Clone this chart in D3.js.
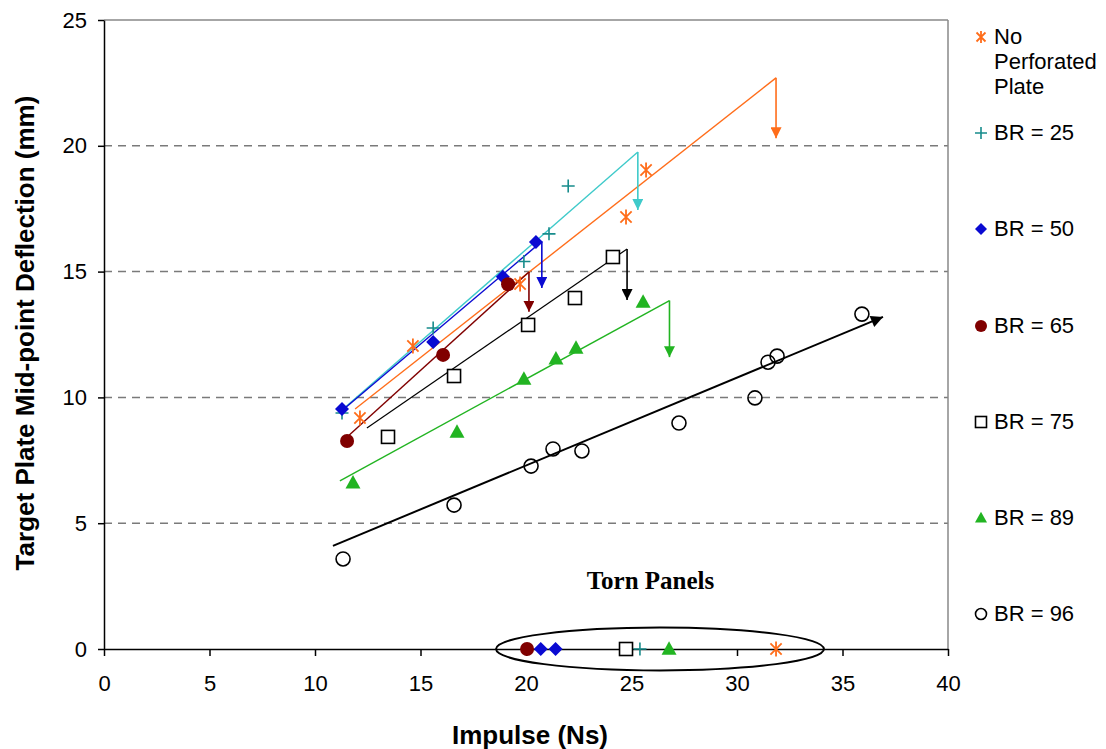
<!DOCTYPE html>
<html><head><meta charset="utf-8">
<script src="https://cdn.jsdelivr.net/npm/d3@7"></script>
<style>body{margin:0;background:#fff}svg{display:block}</style>
</head><body><svg id="c" width="1106" height="749"></svg>
<script>
// ---- data ----
const seriesNames = ["No Perforated Plate","BR = 25","BR = 50","BR = 65","BR = 75","BR = 89","BR = 96"];
const noPerf = [[12.13,9.18],[14.64,12.04],[19.72,14.51],[24.74,17.17],[25.69,19.04]];
const br25 = [[11.28,9.38],[15.6,12.76],[19.9,15.4],[21.09,16.5],[22.0,18.4]];
const br50 = [[11.28,9.54],[15.6,12.2],[18.9,14.8],[20.47,16.18]];
const br65 = [[11.52,8.27],[16.07,11.69],[19.15,14.5]];
const br75 = [[13.46,8.43],[16.59,10.85],[20.1,12.88],[22.32,13.95],[24.12,15.58]];
const br89 = [[11.8,6.6],[16.73,8.62],[19.9,10.73],[21.42,11.53],[22.37,11.96],[25.55,13.79]];
const br96 = [[11.33,3.58],[16.59,5.72],[20.24,7.27],[21.28,7.95],[22.65,7.87],[27.25,8.98],[30.85,9.98],[31.47,11.4],[31.9,11.64],[35.92,13.31]];
// torn panels (deflection 0)
const tornNoPerf = [31.85];
const torn25 = [25.4];
const torn50 = [20.7,21.4];
const torn65 = [20.05];
const torn75 = [24.74];
const torn89 = [26.78];
// trend lines: [x0,y0,x1,y1,arrowTipY]
const trendNoPerf = [11.9,9.54,31.85,22.7,20.3];
const trend25 = [11.28,9.5,25.3,19.75,17.45];
const trend50 = [11.2,9.42,20.75,16.2,14.35];
const trend65 = [11.52,8.43,20.14,14.98,13.4];
const trend75 = [12.46,8.78,24.79,15.9,13.87];
const trend89 = [11.18,6.68,26.8,13.85,11.6];
const trend96 = [10.85,4.1,36.92,13.2];
const xTicks = [0,5,10,15,20,25,30,35,40];
const yTicks = [0,5,10,15,20,25];
const tornEllipse = [26.35,0,7.77,0.85]; // cx, cy, rx, ry in data units
const tornLabel = ["Torn Panels",25.9,2.4];

// ---- chart ----
const SANS = "Arial, 'Liberation Sans', sans-serif";
const SERIF = "'Times New Roman', 'Liberation Serif', serif";
const svg = d3.select("#c");
const x = d3.scaleLinear().domain([0,40]).range([104,948]);
const y = d3.scaleLinear().domain([0,25]).range([649,20]);

// grid
svg.append("g").selectAll("line").data(yTicks.filter(d=>d>0&&d<25)).join("line")
  .attr("x1",x(0)).attr("x2",x(40)).attr("y1",d=>y(d)).attr("y2",d=>y(d))
  .attr("stroke","#7a7a7a").attr("stroke-width",1.5).attr("stroke-dasharray","8,6");
svg.append("line").attr("x1",x(0)).attr("x2",x(40)).attr("y1",y(25)).attr("y2",y(25)).attr("stroke","#888").attr("stroke-width",1.5);
svg.append("line").attr("x1",x(40)).attr("x2",x(40)).attr("y1",y(25)).attr("y2",y(0)).attr("stroke","#888").attr("stroke-width",1.5);

// axes
const ya = svg.append("g").attr("transform",`translate(${x(0)},0)`)
  .call(d3.axisLeft(y).tickValues(yTicks).tickSize(6).tickSizeOuter(0).tickPadding(11));
const xa = svg.append("g").attr("transform",`translate(0,${y(0)})`)
  .call(d3.axisBottom(x).tickValues(xTicks).tickSize(7).tickSizeOuter(0).tickPadding(19));
[ya,xa].forEach(a=>{a.selectAll("text").style("font-size","22px").attr("fill","#000").style("font-family",SANS);
  a.selectAll("line,path").attr("stroke","#000").attr("stroke-width",1.5);});

svg.append("text").attr("x",530).attr("y",744).attr("text-anchor","middle").style("font-family",SANS)
  .style("font-size","26px").style("font-weight","bold").text("Impulse (Ns)");
svg.append("text").attr("transform","translate(34,333) rotate(-90)").attr("text-anchor","middle").style("font-family",SANS)
  .style("font-size","26px").style("font-weight","bold").text("Target Plate Mid-point Deflection (mm)");

// arrow heads
const defs = svg.append("defs");
function marker(id,color,w,h){
  defs.append("marker").attr("id",id).attr("viewBox","0 0 10 10").attr("refX",10).attr("refY",5)
    .attr("markerWidth",w).attr("markerHeight",h).attr("markerUnits","userSpaceOnUse").attr("orient","auto")
    .append("path").attr("d","M0,0L10,5L0,10Z").attr("fill",color);
}
const colors = {np:"#ff6d1a", b25:"#178c8c", c25:"#3fcaca", b50:"#0a0ad2", b65:"#800000", b75:"#000", b89:"#22b422", b96:"#000"};

function trend(t,color,w,id){
  svg.append("line").attr("x1",x(t[0])).attr("y1",y(t[1])).attr("x2",x(t[2])).attr("y2",y(t[3]))
    .attr("stroke",color).attr("stroke-width",w);
  if(t.length>4){
    marker(id,color,11,11);
    svg.append("line").attr("x1",x(t[2])).attr("y1",y(t[3])).attr("x2",x(t[2])).attr("y2",y(t[4]))
      .attr("stroke",color).attr("stroke-width",1.6).attr("marker-end",`url(#${id})`);
  }
}
trend(trendNoPerf,colors.np,1.4,"aNP");
trend(trend25,colors.c25,1.4,"a25");
trend(trend50,colors.b50,1.4,"a50");
trend(trend65,colors.b65,1.4,"a65");
trend(trend75,colors.b75,1.2,"a75");
trend(trend89,colors.b89,1.4,"a89");
marker("a96","#000",16,12);
svg.append("line").attr("x1",x(trend96[0])).attr("y1",y(trend96[1])).attr("x2",x(trend96[2])).attr("y2",y(trend96[3]))
  .attr("stroke","#000").attr("stroke-width",2).attr("marker-end","url(#a96)");

// torn ellipse
svg.append("ellipse").attr("cx",x(tornEllipse[0])).attr("cy",y(tornEllipse[1]))
  .attr("rx",x(tornEllipse[2])-x(0)).attr("ry",y(0)-y(tornEllipse[3]))
  .attr("fill","none").attr("stroke","#000").attr("stroke-width",2);
svg.append("text").attr("x",x(tornLabel[1])).attr("y",y(tornLabel[2])).attr("text-anchor","middle")
  .style("font-family",SERIF).style("font-weight","bold").style("font-size","25px").text(tornLabel[0]);

// symbols
function sym(g,type,cx,cy,s,color){
  const gg = g.append("g").attr("transform",`translate(${cx},${cy})`);
  if(type==="ast"){
    const r=s/2, d=r*0.75;
    gg.append("path").attr("d",`M0,${-r}L0,${r}M${-d},${-d}L${d},${d}M${-d},${d}L${d},${-d}`).attr("stroke",color).attr("stroke-width",1.8).attr("fill","none");
  } else if(type==="plus"){
    const r=s/2;
    gg.append("path").attr("d",`M0,${-r}L0,${r}M${-r},0L${r},0`).attr("stroke",color).attr("stroke-width",1.6).attr("fill","none");
  } else if(type==="dia"){
    const r=s/2;
    gg.append("path").attr("d",`M0,${-r}L${r},0L0,${r}L${-r},0Z`).attr("fill",color);
  } else if(type==="dot"){
    gg.append("circle").attr("r",s/2).attr("fill",color);
  } else if(type==="sq"){
    gg.append("rect").attr("x",-s/2).attr("y",-s/2).attr("width",s).attr("height",s).attr("fill","#fff").attr("stroke",color).attr("stroke-width",1.6);
  } else if(type==="tri"){
    const r=s/2;
    gg.append("path").attr("d",`M0,${-r*1.05}L${r},${r*0.75}L${-r},${r*0.75}Z`).attr("fill",color);
  } else if(type==="circ"){
    gg.append("circle").attr("r",s/2).attr("fill","none").attr("stroke",color).attr("stroke-width",1.6);
  }
}
const pts = svg.append("g");
const defsS = [
  {data:noPerf, torn:tornNoPerf, type:"ast", color:colors.np, s:15, ls:12},
  {data:br25, torn:torn25, type:"plus", color:colors.b25, s:13, ls:12},
  {data:br50, torn:torn50, type:"dia", color:colors.b50, s:14, ls:12},
  {data:br65, torn:torn65, type:"dot", color:colors.b65, s:14, ls:12},
  {data:br75, torn:torn75, type:"sq", color:colors.b75, s:13, ls:11},
  {data:br89, torn:torn89, type:"tri", color:colors.b89, s:15, ls:12},
  {data:br96, torn:[], type:"circ", color:colors.b96, s:14, ls:11}
];
defsS.forEach(d=>{
  d.data.forEach(p=>sym(pts,d.type,x(p[0]),y(p[1]),d.s,d.color));
  d.torn.forEach(t=>sym(pts,d.type,x(t),y(0),d.s,d.color));
});

// legend
const legY = [37,133,229,326,422,518,614];
const leg = svg.append("g");
defsS.forEach((d,i)=>{
  sym(leg,d.type,981,legY[i],d.ls,d.color);
  const t = leg.append("text").attr("x",994).attr("y",legY[i]+7).style("font-family",SANS).style("font-size","22px");
  if(i===0){
    ["No","Perforated","Plate"].forEach((w,k)=>t.append("tspan").attr("x",994).attr("dy",k?25:0).text(w));
  } else t.text(seriesNames[i]);
});
</script></body></html>
